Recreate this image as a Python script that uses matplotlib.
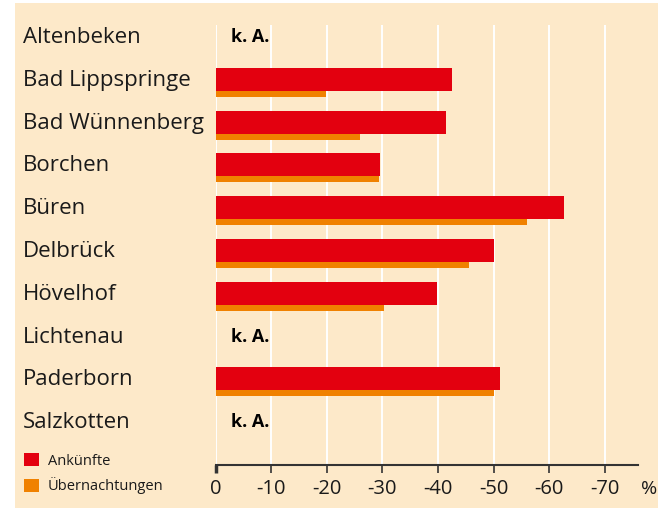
import matplotlib
matplotlib.use("Agg")
import matplotlib.pyplot as plt
from matplotlib.patches import Rectangle
import numpy as np

plt.rcParams['font.family'] = ['Open Sans', 'DejaVu Sans']
plt.rcParams['axes.unicode_minus'] = False

orte = ["Altenbeken", "Bad Lippspringe", "Bad Wünnenberg", "Borchen", "Büren",
        "Delbrück", "Hövelhof", "Lichtenau", "Paderborn", "Salzkotten"]
ankuenfte = [np.nan, -42.5, -41.5, -29.6, -62.6, -50.0, -39.8, np.nan, -51.1, np.nan]
uebernachtungen = [np.nan, -19.8, -26.0, -29.4, -56.0, -45.6, -30.3, np.nan, -50.0, np.nan]
x_ticks = [0, -10, -20, -30, -40, -50, -60, -70]
x_ticklabels = ["0", "-10", "-20", "-30", "-40", "-50", "-60", "-70"]
serien = ["Ankünfte", "Übernachtungen"]

BG = "#FDE9C9"
RED = "#E3000F"
ORANGE = "#F08100"
TXT = "#1a1a1a"

W, H = 670, 515
fig = plt.figure(figsize=(W / 100, H / 100), dpi=100, facecolor="white")
fig.patches.append(Rectangle((15 / W, (H - 508) / H), (658 - 15) / W, (508 - 3) / H,
                             transform=fig.transFigure, facecolor=BG, edgecolor="none", zorder=-10))

left, right, top, bottom = 215.7, 638, 25, 465
ax = fig.add_axes([left / W, (H - bottom) / H, (right - left) / W, (bottom - top) / H])
ax.set_zorder(5)
ax.set_facecolor("none")

y = np.arange(len(orte))
red_h = 23 / 42.8
or_h = 6 / 42.8
red_top = -10 / 42.8
b1 = ax.barh(y + red_top + red_h / 2, ankuenfte, height=red_h, color=RED, zorder=3, label=serien[0])
b2 = ax.barh(y + red_top + red_h + or_h / 2, uebernachtungen, height=or_h, color=ORANGE, zorder=3, label=serien[1])

for i, v in enumerate(ankuenfte):
    if np.isnan(v):
        ax.annotate("k. A.", xy=(0, i), xytext=(11, -1.5), textcoords="offset points",
                    ha="left", va="center", fontsize=13, fontweight="bold", color="black")

ax.set_xlim(0, -76)
ax.set_ylim(10.05, -0.234)

ax.set_xticks(x_ticks)
ax.set_xticklabels(x_ticklabels, fontsize=14.5, color=TXT)
ax.tick_params(axis="x", length=6, width=1.2, color="#333333", pad=4)
for xt in x_ticks:
    ax.axvline(xt, color="white", lw=1.4, zorder=1)

ax.set_yticks(y)
ax.set_yticklabels(orte, fontsize=16, color=TXT, ha="left")
ax.tick_params(axis="y", length=0, pad=(left - 23) * 72 / 100)

for s in ["top", "right", "left"]:
    ax.spines[s].set_visible(False)
ax.spines["bottom"].set_color("#333333")
ax.spines["bottom"].set_linewidth(1.5)
ax.xaxis.get_major_ticks()[0].tick1line.set_markeredgewidth(2.5)

ax.annotate("%", xy=(1, 0), xycoords="axes fraction", xytext=(2, -17), textcoords="offset points",
            ha="left", va="center", fontsize=14, color=TXT)

leg = fig.legend(handles=[b1, b2], labels=serien, loc="upper left",
                 bbox_to_anchor=(14 / W, (H - 443) / H), frameon=False,
                 fontsize=10.5, handlelength=1.0, handleheight=1.0, handletextpad=0.6,
                 labelspacing=0.6, borderpad=0.2, labelcolor=TXT)

fig.savefig("out.png", dpi=100, facecolor="white")
